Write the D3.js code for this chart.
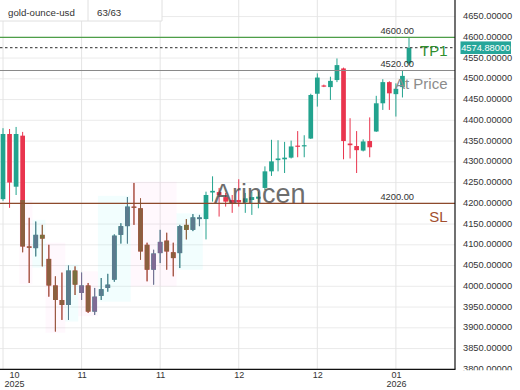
<!DOCTYPE html>
<html><head><meta charset="utf-8">
<script src="https://cdn.jsdelivr.net/npm/d3@7"></script>
<style>html,body{margin:0;padding:0;background:#fff;}svg{display:block;font-family:"Liberation Sans",Arial,sans-serif;}</style>
</head><body><svg id="c" width="520" height="390"></svg>
<script>
// ---- data ----
const opens  = [4210,4367,4240,4363,4096,4092,4124,4066,4002,3967,3955,4038,3984,4002,3939,3977,3996,4016,4124,4145,4192,4188,4100,4040,4080,4110,4082,4080,4148,4136,4162,4162,4226,4227,4215,4208,4208,4202,4208,4211,4237,4277,4304,4306,4310,4339,4338,4356,4464,4484,4480,4497,4525,4344,4338,4327,4350,4373,4441,4492,4463,4480,4537];
const highs  = [4381,4379,4384,4372,4165,4156,4148,4100,4024,4033,4050,4048,4033,4008,3996,4020,4030,4125,4152,4215,4249,4212,4105,4088,4136,4129,4105,4148,4162,4174,4172,4228,4265,4237,4225,4220,4258,4225,4228,4228,4289,4353,4352,4348,4351,4374,4364,4464,4513,4486,4505,4549,4527,4405,4374,4354,4407,4459,4499,4494,4489,4519,4599];
const lows   = [4206,4189,4220,4082,4008,4072,4048,3975,3891,3919,3919,3979,3967,3936,3931,3967,3987,4011,4103,4103,4148,4064,4012,4004,4056,4040,4024,4044,4113,4133,4145,4113,4204,4168,4192,4177,4192,4177,4172,4188,4232,4266,4277,4273,4308,4311,4311,4355,4433,4480,4449,4492,4306,4308,4273,4325,4311,4372,4425,4425,4409,4455,4533];
const closes = [4367,4250,4367,4096,4093,4124,4115,4002,3967,3955,4038,4004,4002,3939,3975,3993,4004,4122,4145,4192,4190,4084,4040,4079,4107,4084,4068,4145,4136,4166,4166,4220,4230,4220,4204,4201,4202,4212,4215,4216,4277,4301,4308,4310,4337,4337,4340,4461,4503,4482,4495,4533,4350,4340,4328,4349,4335,4441,4492,4465,4476,4507,4574.88];

const xTickIndex = [0,12,24,36,48,60];
const xTickMonth = ["10","11","11","12","12","01"];
const xTickYear  = ["2025","","","","","2026"];
const yTicks = d3.range(3800, 4701, 50);

const tpLevel = 4600, entryLevel = 4520, slLevel = 4200, lastPrice = 4574.88;

// pattern zones (candle index ranges, price ranges, kind)
const zoneStart = [3,5,7,10,12,15,20,27];
const zoneEnd   = [4,6,9,11,14,19,26,30];
const zoneLow   = [4005,4045,3888,3915,3928,3963,4000,4040];
const zoneHigh  = [4208,4160,4105,4052,4036,4218,4252,4176];
const zoneKind  = ["pink","cyan","pink","cyan","pink","cyan","pink","cyan"];

// ---- drawing ----
const svg = d3.select("#c");
const plotR = 455, plotB = 369.3;
const x = d3.scaleLinear().domain([0, 62]).range([3, 409]);
const y = d3.scaleLinear().domain([3800, 4600]).range([plotB, 37.3]);
const UP = "#22a38e", DOWN = "#e9354e";
const muted = {pink:{up:"#7f6b95", down:"#8c5f3f"}, cyan:{up:"#5b7b8e", down:"#7b6f3e"}};
const tint = {pink:"rgba(255,120,210,0.055)", cyan:"rgba(90,240,240,0.08)"};
const bw = 4.7;

const defs = svg.append("defs");
defs.append("clipPath").attr("id","plotclip").append("rect").attr("x",0).attr("y",0).attr("width",plotR).attr("height",plotB);
defs.append("clipPath").attr("id","axclip").append("rect").attr("x",0).attr("y",0).attr("width",520).attr("height",plotB+1);

const candles = opens.map((o,i)=>({i, o, h:highs[i], l:lows[i], c:closes[i]}));
const zones = zoneStart.map((s,k)=>({s, e:zoneEnd[k], lo:zoneLow[k], hi:zoneHigh[k], kind:zoneKind[k]}));

const plot = svg.append("g").attr("clip-path","url(#plotclip)");

// grid
plot.append("g").selectAll("line").data(yTicks).join("line")
  .attr("x1",0).attr("x2",plotR).attr("y1",d=>y(d)).attr("y2",d=>y(d))
  .attr("stroke","#ebebeb").attr("stroke-width",1);
plot.append("g").selectAll("line").data(xTickIndex).join("line")
  .attr("x1",d=>x(d)).attr("x2",d=>x(d)).attr("y1",0).attr("y2",plotB)
  .attr("stroke","#e4e4e4").attr("stroke-width",1);

// zone tints
zones.forEach((z,k)=>{
  const x0 = x(z.s)-3.3, x1 = x(z.e)+3.3;
  plot.append("rect").attr("x",x0).attr("y",y(z.hi)).attr("width",x1-x0).attr("height",y(z.lo)-y(z.hi))
    .attr("fill",tint[z.kind]);
  defs.append("clipPath").attr("id","zc"+k).append("rect")
    .attr("x",x0).attr("y",y(z.hi)).attr("width",x1-x0).attr("height",y(z.lo)-y(z.hi));
});

function drawCandles(g, data, colorFn){
  const cg = g.selectAll("g.cd").data(data).join("g").attr("class","cd");
  cg.append("line").attr("x1",d=>x(d.i)).attr("x2",d=>x(d.i))
    .attr("y1",d=>y(d.h)).attr("y2",d=>y(d.l)).attr("stroke",colorFn).attr("stroke-width",1);
  cg.append("rect").attr("x",d=>x(d.i)-bw/2).attr("width",bw)
    .attr("y",d=>y(Math.max(d.o,d.c)))
    .attr("height",d=>Math.max(1.2, Math.abs(y(d.o)-y(d.c))))
    .attr("fill",colorFn);
}
drawCandles(plot.append("g"), candles, d=> d.c>=d.o ? UP : DOWN);
zones.forEach((z,k)=>{
  const g = plot.append("g").attr("clip-path","url(#zc"+k+")");
  const sub = candles.filter(d=>d.i>=z.s && d.i<=z.e);
  drawCandles(g, sub, d=> d.c>=d.o ? muted[z.kind].up : muted[z.kind].down);
});

// watermark
plot.append("text").attr("x",214).attr("y",y(slLevel)).text("Arincen")
  .attr("font-size",27).attr("fill","#4a4a4a").attr("opacity",0.8);

// level lines
plot.append("line").attr("x1",0).attr("x2",plotR).attr("y1",y(tpLevel)).attr("y2",y(tpLevel))
  .attr("stroke","#4e9e48").attr("stroke-width",1.2);
plot.append("line").attr("x1",0).attr("x2",plotR).attr("y1",y(entryLevel)).attr("y2",y(entryLevel))
  .attr("stroke","#8a8a8a").attr("stroke-width",1.2);
plot.append("line").attr("x1",0).attr("x2",plotR).attr("y1",y(slLevel)).attr("y2",y(slLevel))
  .attr("stroke","#8d4a2c").attr("stroke-width",1.2);
plot.append("line").attr("x1",0).attr("x2",plotR).attr("y1",y(lastPrice)).attr("y2",y(lastPrice))
  .attr("stroke","#555").attr("stroke-width",1.2).attr("stroke-dasharray","2.5,2.5");

// level labels
const lvl = [
  {v:tpLevel, small:"4600.00", big:"TP1", color:"#2f8f2f"},
  {v:entryLevel, small:"4520.00", big:"At Price", color:"#8c8c8c"},
  {v:slLevel, small:"4200.00", big:"SL", color:"#a24e2e"}
];
lvl.forEach(L=>{
  plot.append("text").attr("x",414).attr("y",y(L.v)-3.3).attr("text-anchor","end")
    .attr("font-size",9.3).attr("fill","#333").text(L.small);
  plot.append("text").attr("x",447.5).attr("y",y(L.v)+18.5).attr("text-anchor","end")
    .attr("font-size",15).attr("fill",L.color).text(L.big);
});

// header
const hdr = svg.append("g");
hdr.append("rect").attr("x",0).attr("y",0).attr("width",162).attr("height",21).attr("fill","#fff");
hdr.append("line").attr("x1",0).attr("x2",162).attr("y1",21).attr("y2",21).attr("stroke","#e0e0e0");
hdr.append("line").attr("x1",88).attr("x2",88).attr("y1",0).attr("y2",21).attr("stroke","#e0e0e0");
hdr.append("line").attr("x1",162).attr("x2",162).attr("y1",0).attr("y2",21).attr("stroke","#e0e0e0");
hdr.append("text").attr("x",8).attr("y",16).attr("font-size",9.7).attr("fill","#333").text("gold-ounce-usd");
hdr.append("text").attr("x",97).attr("y",16).attr("font-size",9.7).attr("fill","#333").text("63/63");

// axes frame
svg.append("line").attr("x1",0).attr("x2",plotR+0.5).attr("y1",plotB).attr("y2",plotB).attr("stroke","#111").attr("stroke-width",1.2);
svg.append("line").attr("x1",plotR).attr("x2",plotR).attr("y1",0).attr("y2",plotB).attr("stroke","#111").attr("stroke-width",1.2);

// y axis
const yAx = svg.append("g").attr("clip-path","url(#axclip)").append("g").attr("transform",`translate(${plotR},0)`)
  .call(d3.axisRight(y).tickValues(yTicks).tickFormat(d=>d.toFixed(5)).tickSize(0).tickPadding(8));
yAx.select(".domain").remove();
yAx.selectAll("text").attr("font-size",9.3).attr("fill","#333").attr("dy","0.22em")
  .attr("font-family","Liberation Sans, Arial, sans-serif");

// x axis
const xAx = svg.append("g").attr("transform",`translate(0,${plotB})`)
  .call(d3.axisBottom(x).tickValues(xTickIndex).tickFormat((d,i)=>xTickMonth[i]).tickSize(0).tickPadding(2.6));
xAx.select(".domain").remove();
xAx.selectAll("text").attr("font-size",9).attr("fill","#333").attr("font-family","Liberation Sans, Arial, sans-serif")
  .each(function(d,i){
    const t = d3.select(this);
    if (xTickYear[i]) {
      t.append("tspan").attr("x",0).attr("dy","0.95em").text(xTickYear[i]);
    }
    const bb = this.getBBox();
    const left = x(d) + bb.x;
    if (left < 4) t.attr("transform",`translate(${4-left},0)`);
  });

// price badge
const by = y(lastPrice);
svg.append("rect").attr("x",460.5).attr("y",by-6.3).attr("width",50.5).attr("height",12.6).attr("fill","#26a69a");
svg.append("text").attr("x",485.7).attr("y",by+3.2).attr("text-anchor","middle").attr("font-size",9.3)
  .attr("fill","#fff").text(lastPrice.toFixed(5));
</script></body></html>
